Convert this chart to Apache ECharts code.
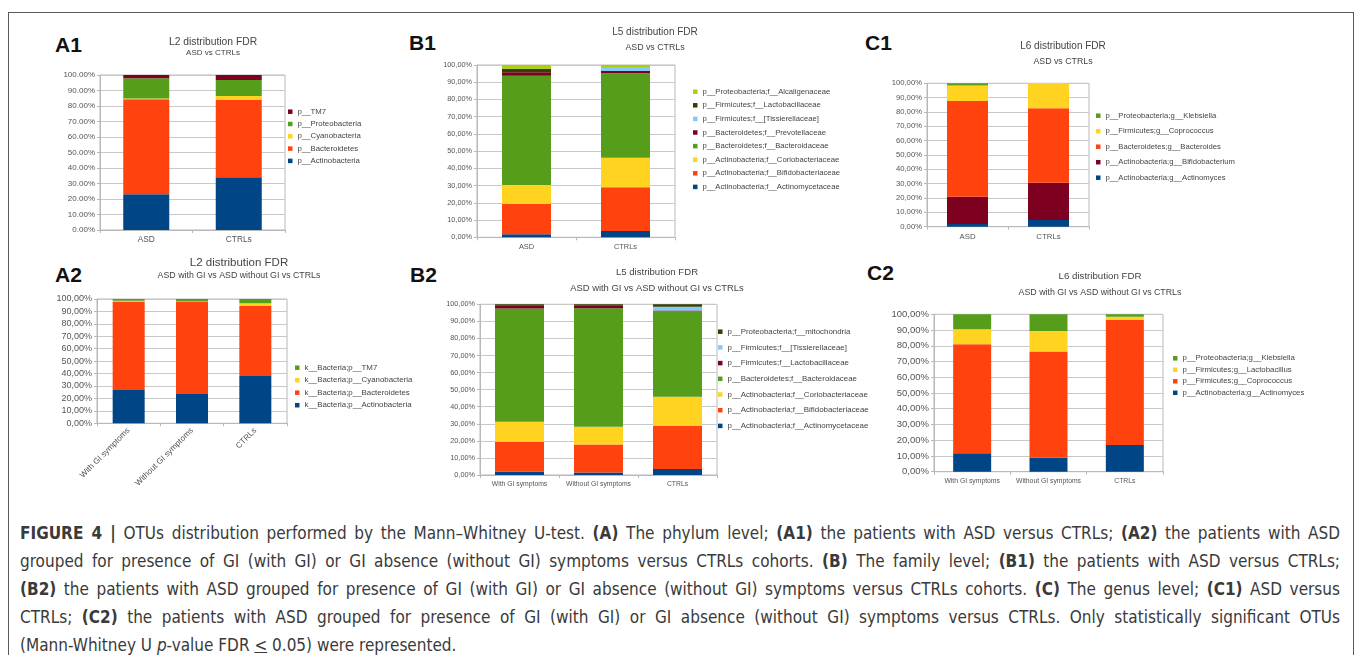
<!DOCTYPE html>
<html>
<head>
<meta charset="utf-8">
<script src="https://cdn.jsdelivr.net/npm/echarts@6/dist/echarts.min.js"></script>
<style>
  body { margin: 0; background: #fff; width: 1360px; height: 655px; overflow: hidden; position: relative; font-family: 'Liberation Sans', Arial, sans-serif; }
  .frame { position: absolute; left: 8px; top: 12px; width: 1346px; height: 720px; border: 1.5px solid #5a5a5a; box-sizing: border-box; }
  .chart { position: absolute; }
  .tag { position: absolute; font-weight: bold; font-size: 21px; line-height: 1; color: #111; }
  .cap { position: absolute; left: 20px; width: 1320px; height: 28px; line-height: 28px; font-family: 'Liberation Sans Narrow', 'DejaVu Sans Condensed', sans-serif; font-size: 17px; color: #3a3a3a; text-align: justify; text-align-last: justify; }
  .cap.last { text-align-last: left; }
</style>
</head>
<body>
<div class="frame"></div>

<div class="tag" style="left:55px;top:34px">A1</div>
<div class="tag" style="left:409px;top:32px">B1</div>
<div class="tag" style="left:865px;top:32px">C1</div>
<div class="tag" style="left:55px;top:264px">A2</div>
<div class="tag" style="left:410px;top:264px">B2</div>
<div class="tag" style="left:867px;top:262px">C2</div>

<div id="a1" class="chart"></div>
<div id="b1" class="chart"></div>
<div id="c1" class="chart"></div>
<div id="a2" class="chart"></div>
<div id="b2" class="chart"></div>
<div id="c2" class="chart"></div>

<div class="cap" style="top:519px"><b>FIGURE 4 |</b> OTUs distribution performed by the Mann–Whitney U-test. <b>(A)</b> The phylum level; <b>(A1)</b> the patients with ASD versus CTRLs; <b>(A2)</b> the patients with ASD</div>
<div class="cap" style="top:547px">grouped for presence of GI (with GI) or GI absence (without GI) symptoms versus CTRLs cohorts. <b>(B)</b> The family level; <b>(B1)</b> the patients with ASD versus CTRLs;</div>
<div class="cap" style="top:575px"><b>(B2)</b> the patients with ASD grouped for presence of GI (with GI) or GI absence (without GI) symptoms versus CTRLs cohorts. <b>(C)</b> The genus level; <b>(C1)</b> ASD versus</div>
<div class="cap" style="top:603px">CTRLs; <b>(C2)</b> the patients with ASD grouped for presence of GI (with GI) or GI absence (without GI) symptoms versus CTRLs. Only statistically significant OTUs</div>
<div class="cap last" style="top:631px">(Mann-Whitney U <i>p</i>-value FDR <u>&lt;</u> 0.05) were represented.</div>

<script>
// colours (LibreOffice default palette)
const BLUE = '#004586'
const ORANGE = '#ff420e'
const YELLOW = '#ffd320'
const GREEN = '#579d1c'
const DRED = '#7e0021'
const LBLUE = '#83caff'
const OLIVE = '#314004'
const LIME = '#aecf00'

// ---- A1: phylum, ASD vs CTRLs (%)
const a1Cats = ['ASD', 'CTRLs']
const a1Actinobacteria = [23.0, 34.0]
const a1Bacteroidetes = [61.3, 49.9]
const a1Cyanobacteria = [0.6, 2.6]
const a1Proteobacteria = [13.0, 10.3]
const a1TM7 = [2.1, 3.2]

// ---- B1: family, ASD vs CTRLs (%)
const b1Cats = ['ASD', 'CTRLs']
const b1Actinomycetaceae = [1.7, 3.7]
const b1Bifidobacteriaceae = [17.6, 25.3]
const b1Coriobacteriaceae = [11.1, 17.2]
const b1Bacteroidaceae = [63.4, 49.0]
const b1Prevotellaceae = [2.0, 1.3]
const b1Tissierellaceae = [0.0, 1.9]
const b1Lactobacillaceae = [2.0, 0.1]
const b1Alcaligenaceae = [2.2, 1.5]

// ---- C1: genus, ASD vs CTRLs (%)
const c1Cats = ['ASD', 'CTRLs']
const c1Actinomyces = [1.9, 4.7]
const c1Bifidobacterium = [19.0, 26.0]
const c1Bacteroides = [66.8, 51.9]
const c1Coprococcus = [10.7, 17.4]
const c1Klebsiella = [1.6, 0.0]

// ---- A2: phylum, with GI / without GI / CTRLs (%)
const a2Cats = ['With GI symptoms', 'Without GI symptoms', 'CTRLs']
const a2Actinobacteria = [26.8, 23.6, 38.1]
const a2Bacteroidetes = [71.1, 74.3, 56.3]
const a2Cyanobacteria = [0.6, 0.3, 2.1]
const a2TM7 = [1.5, 1.8, 3.5]

// ---- B2: family, with GI / without GI / CTRLs (%)
const b2Cats = ['With GI symptoms', 'Without GI symptoms', 'CTRLs']
const b2Actinomycetaceae = [2.0, 1.5, 3.5]
const b2Bifidobacteriaceae = [17.5, 16.4, 25.2]
const b2Coriobacteriaceae = [11.7, 10.4, 17.2]
const b2Bacteroidaceae = [66.3, 69.4, 50.1]
const b2Lactobacillaceae = [1.9, 1.8, 0.3]
const b2Tissierellaceae = [0.0, 0.0, 2.3]
const b2Mitochondria = [0.6, 0.5, 1.4]

// ---- C2: genus, with GI / without GI / CTRLs (%)
const c2Cats = ['With GI symptoms', 'Without GI symptoms', 'CTRLs']
const c2Actinomyces = [11.7, 8.9, 16.9]
const c2Coprococcus = [69.2, 67.4, 79.5]
const c2Lactobacillus = [9.6, 13.1, 2.1]
const c2Klebsiella = [9.5, 10.6, 1.5]

function makePanel (id, cfg) {
  const box = cfg.box
  const el = document.getElementById(id)
  el.style.left = box.x + 'px'
  el.style.top = box.y + 'px'
  el.style.width = box.w + 'px'
  el.style.height = box.h + 'px'
  const chart = echarts.init(el, null, { renderer: 'canvas' })
  const g = cfg.grid
  const f = cfg.fonts
  const lineH = 8
  const option = {
    animation: false,
    graphic: [
      {
        type: 'text', x: cfg.titleX - box.x, y: cfg.titleY - box.y,
        style: { text: cfg.title, fill: '#444', font: f.title + 'px "Liberation Sans", Arial', textAlign: 'center', textVerticalAlign: 'middle' }
      },
      {
        type: 'text', x: cfg.titleX - box.x, y: cfg.subY - box.y,
        style: { text: cfg.sub, fill: '#444', font: f.sub + 'px "Liberation Sans", Arial', textAlign: 'center', textVerticalAlign: 'middle' }
      }
    ],
    legend: {
      orient: 'vertical',
      left: cfg.legend.x - box.x - 2,
      top: cfg.legend.y - box.y - lineH / 2,
      padding: 0,
      itemGap: cfg.legend.gap - lineH,
      itemWidth: 4.5,
      itemHeight: 4.5,
      icon: 'rect',
      selectedMode: false,
      data: cfg.series.map(s => s.name).reverse(),
      textStyle: { fontSize: f.legend, lineHeight: lineH, color: '#444', fontFamily: 'Liberation Sans' }
    },
    grid: {
      left: g.l - box.x,
      top: g.t - box.y,
      width: g.r - g.l,
      height: g.b - g.t,
      show: true,
      borderColor: '#b8b8b8',
      borderWidth: 1,
      containLabel: false
    },
    xAxis: {
      type: 'category',
      data: cfg.cats,
      axisLine: { lineStyle: { color: '#b8b8b8' } },
      axisTick: { show: true, length: 3, lineStyle: { color: '#b8b8b8' } },
      axisLabel: { color: '#555', fontSize: f.x, margin: 6, rotate: cfg.rotate || 0, interval: 0, fontFamily: 'Liberation Sans' }
    },
    yAxis: {
      type: 'value',
      min: 0,
      max: 100,
      interval: 10,
      axisLine: { show: true, lineStyle: { color: '#b8b8b8' } },
      axisTick: { show: true, length: 3, lineStyle: { color: '#b8b8b8' } },
      splitLine: { lineStyle: { color: '#c8c8c8' } },
      axisLabel: {
        color: '#555', fontSize: f.y, margin: 5, fontFamily: 'Liberation Sans',
        formatter: v => v.toFixed(2).replace('.', cfg.sep) + '%'
      }
    },
    series: cfg.series.map(s => ({
      name: s.name,
      type: 'bar',
      stack: 'total',
      barWidth: cfg.barW,
      data: s.data,
      itemStyle: { color: s.color },
      emphasis: { disabled: true }
    }))
  }
  chart.setOption(option)
  return chart
}

makePanel('a1', {
  box: { x: 20, y: 20, w: 370, h: 232 },
  grid: { l: 100, r: 285, t: 75, b: 230 },
  legend: { x: 290, y: 111.7, gap: 12.3 },
  title: 'L2 distribution FDR', sub: 'ASD vs CTRLs',
  titleX: 213, titleY: 42, subY: 53,
  fonts: { title: 10.3, sub: 8, legend: 7.8, x: 8.3, y: 8 },
  barW: 46, sep: '.',
  cats: a1Cats,
  series: [
    { name: 'p__Actinobacteria', color: BLUE, data: a1Actinobacteria },
    { name: 'p__Bacteroidetes', color: ORANGE, data: a1Bacteroidetes },
    { name: 'p__Cyanobacteria', color: YELLOW, data: a1Cyanobacteria },
    { name: 'p__Proteobacteria', color: GREEN, data: a1Proteobacteria },
    { name: 'p__TM7', color: DRED, data: a1TM7 }
  ]
})

makePanel('b1', {
  box: { x: 390, y: 20, w: 460, h: 232 },
  grid: { l: 477, r: 675, t: 65, b: 237.3 },
  legend: { x: 695, y: 91.7, gap: 13.6 },
  title: 'L5 distribution FDR', sub: 'ASD vs CTRLs',
  titleX: 655, titleY: 32.7, subY: 48,
  fonts: { title: 10, sub: 8.8, legend: 7.7, x: 7.4, y: 7.3 },
  barW: 49, sep: ',',
  cats: b1Cats,
  series: [
    { name: 'p__Actinobacteria;f__Actinomycetaceae', color: BLUE, data: b1Actinomycetaceae },
    { name: 'p__Actinobacteria;f__Bifidobacteriaceae', color: ORANGE, data: b1Bifidobacteriaceae },
    { name: 'p__Actinobacteria;f__Coriobacteriaceae', color: YELLOW, data: b1Coriobacteriaceae },
    { name: 'p__Bacteroidetes;f__Bacteroidaceae', color: GREEN, data: b1Bacteroidaceae },
    { name: 'p__Bacteroidetes;f__Prevotellaceae', color: DRED, data: b1Prevotellaceae },
    { name: 'p__Firmicutes;f__[Tissierellaceae]', color: LBLUE, data: b1Tissierellaceae },
    { name: 'p__Firmicutes;f__Lactobacillaceae', color: OLIVE, data: b1Lactobacillaceae },
    { name: 'p__Proteobacteria;f__Alcaligenaceae', color: LIME, data: b1Alcaligenaceae }
  ]
})

makePanel('c1', {
  box: { x: 850, y: 20, w: 500, h: 232 },
  grid: { l: 927, r: 1089, t: 83.3, b: 226.7 },
  legend: { x: 1098, y: 115.7, gap: 15.5 },
  title: 'L6 distribution FDR', sub: 'ASD vs CTRLs',
  titleX: 1063, titleY: 46.7, subY: 61.7,
  fonts: { title: 10, sub: 8.8, legend: 7.7, x: 7.8, y: 7.7 },
  barW: 41, sep: ',',
  cats: c1Cats,
  series: [
    { name: 'p__Actinobacteria;g__Actinomyces', color: BLUE, data: c1Actinomyces },
    { name: 'p__Actinobacteria;g__Bifidobacterium', color: DRED, data: c1Bifidobacterium },
    { name: 'p__Bacteroidetes;g__Bacteroides', color: ORANGE, data: c1Bacteroides },
    { name: 'p__Firmicutes;g__Coprococcus', color: YELLOW, data: c1Coprococcus },
    { name: 'p__Proteobacteria;g__Klebsiella', color: GREEN, data: c1Klebsiella }
  ]
})

makePanel('a2', {
  box: { x: 20, y: 250, w: 420, h: 240 },
  grid: { l: 97, r: 287, t: 299, b: 423.3 },
  legend: { x: 297, y: 367.7, gap: 12.5 },
  title: 'L2 distribution FDR', sub: 'ASD with GI vs ASD without GI vs CTRLs',
  titleX: 239, titleY: 262.7, subY: 276,
  fonts: { title: 11.5, sub: 8.8, legend: 7.9, x: 8.2, y: 9 },
  barW: 32, sep: ',', rotate: 45,
  cats: a2Cats,
  series: [
    { name: 'k__Bacteria;p__Actinobacteria', color: BLUE, data: a2Actinobacteria },
    { name: 'k__Bacteria;p__Bacteroidetes', color: ORANGE, data: a2Bacteroidetes },
    { name: 'k__Bacteria;p__Cyanobacteria', color: YELLOW, data: a2Cyanobacteria },
    { name: 'k__Bacteria;p__TM7', color: GREEN, data: a2TM7 }
  ]
})

makePanel('b2', {
  box: { x: 400, y: 250, w: 480, h: 240 },
  grid: { l: 480, r: 717, t: 304.3, b: 475 },
  legend: { x: 720, y: 331.7, gap: 15.7 },
  title: 'L5 distribution FDR', sub: 'ASD with GI vs ASD without GI vs CTRLs',
  titleX: 657, titleY: 272.7, subY: 288,
  fonts: { title: 9.6, sub: 9.4, legend: 7.9, x: 6.8, y: 7.3 },
  barW: 49, sep: ',',
  cats: b2Cats,
  series: [
    { name: 'p__Actinobacteria;f__Actinomycetaceae', color: BLUE, data: b2Actinomycetaceae },
    { name: 'p__Actinobacteria;f__Bifidobacteriaceae', color: ORANGE, data: b2Bifidobacteriaceae },
    { name: 'p__Actinobacteria;f__Coriobacteriaceae', color: YELLOW, data: b2Coriobacteriaceae },
    { name: 'p__Bacteroidetes;f__Bacteroidaceae', color: GREEN, data: b2Bacteroidaceae },
    { name: 'p__Firmicutes;f__Lactobacillaceae', color: DRED, data: b2Lactobacillaceae },
    { name: 'p__Firmicutes;f__[Tissierellaceae]', color: LBLUE, data: b2Tissierellaceae },
    { name: 'p__Proteobacteria;f__mitochondria', color: OLIVE, data: b2Mitochondria }
  ]
})

makePanel('c2', {
  box: { x: 880, y: 250, w: 470, h: 240 },
  grid: { l: 934, r: 1163, t: 314.3, b: 471.7 },
  legend: { x: 1175, y: 358.3, gap: 11.5 },
  title: 'L6 distribution FDR', sub: 'ASD with GI vs ASD without GI vs CTRLs',
  titleX: 1100, titleY: 276.7, subY: 292.7,
  fonts: { title: 9.7, sub: 8.8, legend: 7.8, x: 6.8, y: 9.5 },
  barW: 38, sep: ',',
  cats: c2Cats,
  series: [
    { name: 'p__Actinobacteria;g__Actinomyces', color: BLUE, data: c2Actinomyces },
    { name: 'p__Firmicutes;g__Coprococcus', color: ORANGE, data: c2Coprococcus },
    { name: 'p__Firmicutes;g__Lactobacillus', color: YELLOW, data: c2Lactobacillus },
    { name: 'p__Proteobacteria;g__Klebsiella', color: GREEN, data: c2Klebsiella }
  ]
})
</script>
</body>
</html>
